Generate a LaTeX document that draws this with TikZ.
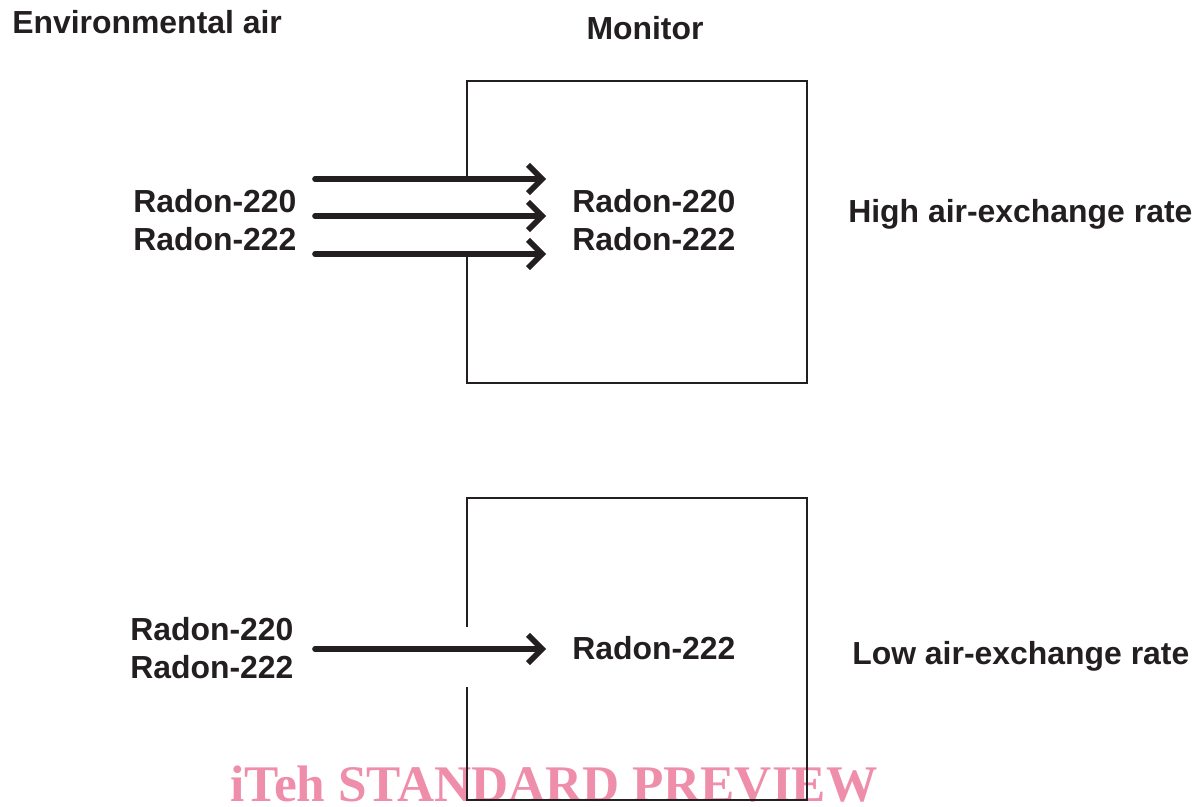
\documentclass[tikz,border=0pt]{standalone}
\usepackage{fontspec}
\setmainfont{Liberation Sans}
\newfontfamily\wmfont{Liberation Serif}
\usetikzlibrary{arrows.meta, positioning}
\definecolor{inkgray}{RGB}{35, 31, 32}
\definecolor{wmpink}{RGB}{238, 142, 170}

\begin{document}
\begin{tikzpicture}[
  x=0.025cm, y=-0.025cm,
  lbl/.style  = { font=\fontsize{22.7}{27}\selectfont\bfseries, text=inkgray,
                  inner sep=0pt, align=left },
  wall/.style = { draw=inkgray, line width=1.4pt },
  arr/.style  = { -{Straight Barb[length=10pt, width=20pt]}, draw=inkgray,
                  line width=4pt, line cap=round, line join=round }
]
\useasboundingbox (0,0) rectangle (1204,807);

% watermark first, lines go over it
\node[font=\fontsize{36.5}{40}\selectfont\wmfont\bfseries, text=wmpink,
      inner sep=0pt, anchor=base west] (watermark) at (230,801) {iTeh STANDARD PREVIEW};

% headings
\node[lbl, anchor=west] (envair)  at (12,22)  {Environmental air};
\node[lbl]              (monitor) at (645,28) {Monitor};

% high air-exchange rate
\draw[wall] (467,177) -- (467,81) -- (807,81) -- (807,383) -- (467,383) -- (467,257);
\node[lbl, anchor=west] (hiout)  at (133,220) {Radon-220\\Radon-222};
\node[lbl, anchor=west] (hiin)   at (572,220) {Radon-220\\Radon-222};
\node[lbl, anchor=west] (hirate) at (848,214) {High air-exchange rate};

\coordinate (hiS1) at (315,179); \coordinate (hiE1) at (546,179);
\coordinate (hiS2) at (315,216); \coordinate (hiE2) at (546,216);
\coordinate (hiS3) at (315,254); \coordinate (hiE3) at (546,254);
\draw[arr] (hiS1) -- (hiE1);
\draw[arr] (hiS2) -- (hiE2);
\draw[arr] (hiS3) -- (hiE3);

% low air-exchange rate
\draw[wall] (467,627) -- (467,498) -- (807,498) -- (807,800) -- (467,800) -- (467,687);
\node[lbl, anchor=west] (loout)  at (130,648) {Radon-220\\Radon-222};
\node[lbl, anchor=west] (loin)   at (572,648) {Radon-222};
\node[lbl, anchor=west] (lorate) at (852,656) {Low air-exchange rate};

\coordinate (loS) at (315,649); \coordinate (loE) at (546,649);
\draw[arr] (loS) -- (loE);

\end{tikzpicture}
\end{document}
